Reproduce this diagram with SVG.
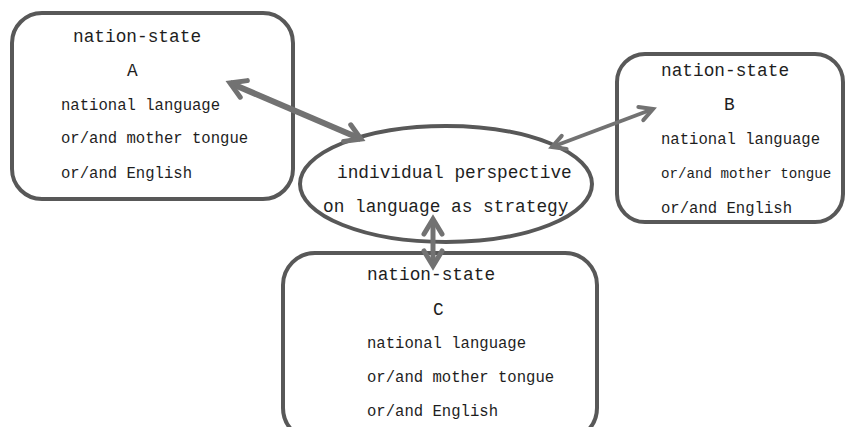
<svg xmlns="http://www.w3.org/2000/svg" width="845" height="427" viewBox="0 0 845 427">
<style>
.box{fill:#fff;stroke:#585858;stroke-width:4}
.h{font-family:"Liberation Mono","DejaVu Sans Mono",monospace;font-size:17.8px;fill:#1e1e1e}
.b{font-family:"Liberation Mono","DejaVu Sans Mono",monospace;font-size:15.6px;fill:#1e1e1e}
.con{stroke:#727272;fill:none;stroke-linecap:butt}
</style>
<defs>
<marker id="big" viewBox="0 0 24 24" markerWidth="24" markerHeight="24" refX="21" refY="12" orient="auto-start-reverse" markerUnits="userSpaceOnUse" overflow="visible">
<path d="M6,3 L21,12 L6,21" fill="none" stroke="#727272" stroke-width="5" stroke-linejoin="miter" stroke-linecap="round"/>
</marker>
<marker id="small" viewBox="0 0 20 20" markerWidth="20" markerHeight="20" refX="18" refY="10" orient="auto-start-reverse" markerUnits="userSpaceOnUse" overflow="visible">
<path d="M5,3 L18,10 L5,17" fill="none" stroke="#727272" stroke-width="4" stroke-linejoin="miter" stroke-linecap="round"/>
</marker>
</defs>
<g id="nodeA">
<rect class="box" x="12" y="13" width="281" height="186" rx="30"/>
<text class="h" x="73" y="42">nation-state</text>
<text class="h" x="127" y="76">A</text>
<text class="b" x="61" y="110">national language</text>
<text class="b" x="61" y="143">or/and mother tongue</text>
<text class="b" x="61" y="178">or/and English</text>
</g>
<g id="nodeB">
<rect class="box" x="617" y="54" width="226" height="168" rx="28"/>
<text class="h" x="661" y="76">nation-state</text>
<text class="h" x="724" y="110">B</text>
<text class="b" x="661" y="144">national language</text>
<text class="b" x="661" y="178" style="font-size:14.2px">or/and mother tongue</text>
<text class="b" x="661" y="213">or/and English</text>
</g>
<g id="nodeC">
<rect class="box" x="283" y="253" width="314" height="187" rx="32"/>
<text class="h" x="367" y="280">nation-state</text>
<text class="h" x="433" y="315">C</text>
<text class="b" x="367" y="348">national language</text>
<text class="b" x="367" y="382">or/and mother tongue</text>
<text class="b" x="367" y="416">or/and English</text>
</g>
<g id="center">
<ellipse cx="446" cy="184" rx="146" ry="58" fill="#fff" stroke="#585858" stroke-width="4"/>
<text class="h" x="337" y="178">individual perspective</text>
<text class="h" x="323" y="212">on language as strategy</text>
</g>
<g id="connectors">
<line class="con" x1="230" y1="83" x2="361" y2="139" stroke-width="6" marker-start="url(#big)" marker-end="url(#big)"/>
<line class="con" x1="552" y1="147" x2="653" y2="109" stroke-width="4" marker-start="url(#small)" marker-end="url(#small)"/>
<line class="con" x1="433" y1="219" x2="433" y2="266" stroke-width="5" marker-start="url(#big)" marker-end="url(#big)"/>
</g>
</svg>
